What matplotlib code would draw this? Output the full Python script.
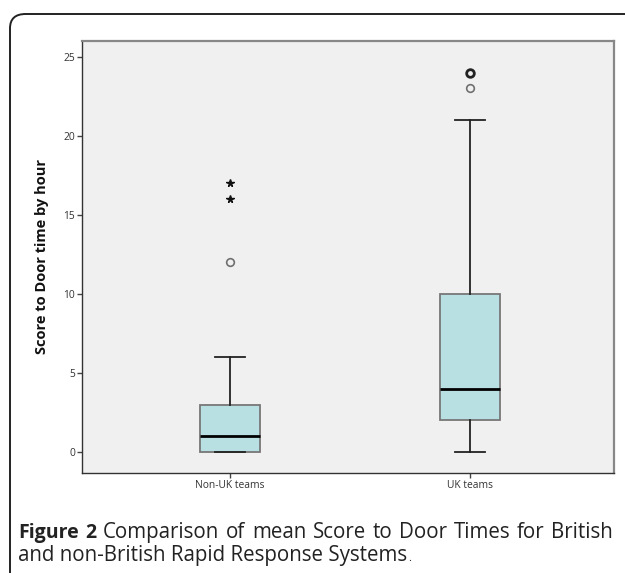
import matplotlib
matplotlib.use("Agg")
import matplotlib.pyplot as plt
from matplotlib.patches import FancyBboxPatch

# box summary
groups = ["Non-UK teams", "UK teams"]
q1 = [0, 2]
med = [1, 4]
q3 = [3, 10]
whislo = [0, 0]
whishi = [6, 21]
outliers = [[12], [23, 24, 24, 24]]
extremes = [[16, 17], []]
yticks = [0, 5, 10, 15, 20, 25]

W, H = 625, 573
fig = plt.figure(figsize=(W / 100, H / 100), dpi=100)
fig.patch.set_facecolor("white")

# rounded frame around figure + caption
frame = FancyBboxPatch((10 / W, -0.2), 1.2, 1 - 14 / H + 0.2,
                       boxstyle="round,pad=0,rounding_size=0.025",
                       transform=fig.transFigure, fill=False,
                       edgecolor="#222222", linewidth=1.4, clip_on=False)
fig.patches.append(frame)

ax = fig.add_axes([82 / W, 1 - 473 / H, (614 - 82) / W, (473 - 41) / H])
ax.set_facecolor("#eff0ef")

stats = []
for i in range(len(groups)):
    stats.append(dict(q1=q1[i], med=med[i], q3=q3[i],
                      whislo=whislo[i], whishi=whishi[i], fliers=[]))

ax.bxp(stats, positions=[0, 1], widths=0.25, patch_artist=True,
       showfliers=False,
       boxprops=dict(facecolor="#b8e0e3", edgecolor="#777777", linewidth=1.3),
       medianprops=dict(color="black", linewidth=2.0),
       whiskerprops=dict(color="#222222", linewidth=1.3),
       capprops=dict(color="#222222", linewidth=1.3),
       capwidths=0.125)

for i in range(len(groups)):
    ys = outliers[i]
    if ys:
        # repeated values look darker, as in the original
        for y in sorted(set(ys)):
            n = ys.count(y)
            ax.plot([i], [y], marker="o", markersize=5.5, linestyle="none",
                    markerfacecolor="none",
                    markeredgecolor="#222222" if n > 1 else "#707070",
                    markeredgewidth=2.0 if n > 1 else 1.2)
    if extremes[i]:
        ax.plot([i] * len(extremes[i]), extremes[i], marker="*",
                markersize=5.5, linestyle="none", color="#111111")

ax.set_xlim(-0.615, 1.6)
ax.set_ylim(-1.33, 26.0)
ax.set_xticks([0, 1])
ax.set_xticklabels(groups, fontsize=7.4, color="#333333", family="Open Sans")
ax.set_yticks(yticks)
ax.set_yticklabels([str(t) for t in yticks], fontsize=7.4, color="#333333",
                   family="Open Sans")
ax.tick_params(direction="out", length=3.5, width=1.0, color="#444444", pad=1.5)

for s in ["left", "bottom"]:
    ax.spines[s].set_color("#333333")
    ax.spines[s].set_linewidth(1.0)
for s in ["top", "right"]:
    ax.spines[s].set_color("#888888")
    ax.spines[s].set_linewidth(1.6)

ax.set_ylabel("Score to Door time by hour", fontsize=10.5, fontweight="bold",
              family="Open Sans", color="#111111")
ax.yaxis.set_label_coords(-0.062, 0.5)

# caption, first line justified between the frame margins
bold_fs = 14.0
reg_fs = 14.8
left, right = 18, 613
words1 = [("Figure", "bold"), ("2", "bold"), ("Comparison", "normal"),
          ("of", "normal"), ("mean", "normal"), ("Score", "normal"),
          ("to", "normal"), ("Door", "normal"), ("Times", "normal"),
          ("for", "normal"), ("British", "normal")]
fig.canvas.draw()
renderer = fig.canvas.get_renderer()
arts = []
for w, wt in words1:
    t = fig.text(0, 1 - 538 / H, w, fontsize=bold_fs if wt == "bold" else reg_fs,
                 fontweight=wt, family="Open Sans", color="#222222",
                 va="baseline")
    arts.append(t)
widths = [a.get_window_extent(renderer).width for a in arts]
gap = (right - left - sum(widths)) / (len(arts) - 1)
x = left
for a, wd in zip(arts, widths):
    a.set_x(x / W)
    x += wd + gap

line2 = fig.text(left / W, 1 - 561 / H, "and non-British Rapid Response Systems",
                 fontsize=reg_fs, family="Open Sans", color="#222222",
                 va="baseline")
end2 = line2.get_window_extent(renderer).x1
fig.text((end2 + 1) / W, 1 - 561 / H, ".", fontsize=8, family="Open Sans",
         color="#222222", va="baseline")

fig.savefig("out.png", dpi=100)
